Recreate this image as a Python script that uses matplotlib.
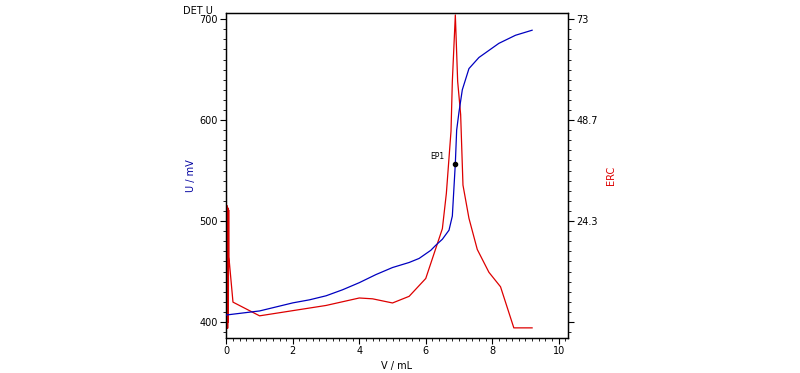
import matplotlib
matplotlib.use("Agg")
import matplotlib.pyplot as plt
from matplotlib.ticker import MultipleLocator

# Potential curve U (mV) vs volume V (mL)
v_u = [0.0, 0.5, 1.0, 1.5, 2.0, 2.5, 3.0, 3.5, 4.0, 4.5, 5.0, 5.5, 5.8, 6.15, 6.3,
       6.5, 6.7, 6.8, 6.89, 6.93, 7.0, 7.1, 7.3, 7.6, 8.2, 8.7, 9.2]
u_mv = [407, 409, 411, 415, 419, 422, 426, 432, 439, 447, 454, 459, 463, 471, 476,
        482, 491, 505, 557, 590, 608, 630, 651, 662, 676, 684, 689]

# ERC curve
v_erc = [0.03, 0.04, 0.05, 0.06, 0.07, 0.075, 0.08, 0.2, 1.0, 3.0, 4.0, 4.4, 5.0,
         5.5, 6.0, 6.25, 6.5, 6.62, 6.76, 6.8, 6.89, 6.96, 7.05, 7.12, 7.3, 7.55,
         7.9, 8.25, 8.65, 9.2]
erc = [28, -1.5, 27.5, 0, 27, 15.6, 15.4, 4.8, 1.5, 4.0, 5.8, 5.6, 4.6,
       6.2, 10.5, 16.5, 22.5, 31, 46, 58, 74, 58, 50, 33, 25, 17.5,
       12, 8.5, -1.4, -1.4]

# End point
ep_v = [6.89]
ep_u = [557]
ep_label = "EP1"

u_ticks = [400, 500, 600, 700]
erc_ticks = [0, 24.333, 48.667, 73]
erc_ticklabels = ["", "24.3", "48.7", "73"]
v_ticks = [0, 2, 4, 6, 8, 10]

plt.rcParams['font.family'] = ['DejaVu Sans']
fs = 7

fig = plt.figure(figsize=(8.0, 3.73), dpi=100)
ax = fig.add_axes([0.2825, 0.0938, 0.4275, 0.8712])
ax2 = ax.twinx()

ax.plot(v_u, u_mv, color="#0000c0", lw=0.9, zorder=3)
ax2.plot(v_erc, erc, color="#dd0000", lw=0.9, zorder=2)
ax.plot(ep_v, ep_u, "o", color="black", ms=3, zorder=4)
ax.annotate(ep_label, (ep_v[0], ep_u[0]), xytext=(-18, 3), textcoords="offset points",
            fontsize=5.5, color="black")

ax.set_xlim(-0.01, 10.28)
ax.set_ylim(384.2, 706)
ax2.set_ylim((384.2 - 400) * 73 / 300, (706 - 400) * 73 / 300)

ax.set_zorder(ax2.get_zorder() + 1)
ax.patch.set_visible(False)

ax.set_xticks(v_ticks)
ax.xaxis.set_minor_locator(MultipleLocator(0.2))
ax.set_yticks(u_ticks)
ax.yaxis.set_minor_locator(MultipleLocator(10))
ax2.set_yticks(erc_ticks)
ax2.set_yticklabels(erc_ticklabels)
ax2.yaxis.set_minor_locator(MultipleLocator(73 / 30))

for a in (ax, ax2):
    a.tick_params(which="major", length=4, width=0.8, labelsize=fs, direction="out", pad=2)
    a.tick_params(which="minor", length=2, width=0.6, direction="out")
    for s in a.spines.values():
        s.set_linewidth(0.9)

ax.set_xlabel("V / mL", fontsize=fs, labelpad=3)
ax.set_ylabel("U / mV", fontsize=fs, color="#0000a0", labelpad=2)
ax2.set_ylabel("ERC", fontsize=fs, color="#dd0000", labelpad=6)
fig.text(0.229, 0.985, "DET U", fontsize=fs, ha="left", va="top")

fig.savefig("out.png", dpi=100)
